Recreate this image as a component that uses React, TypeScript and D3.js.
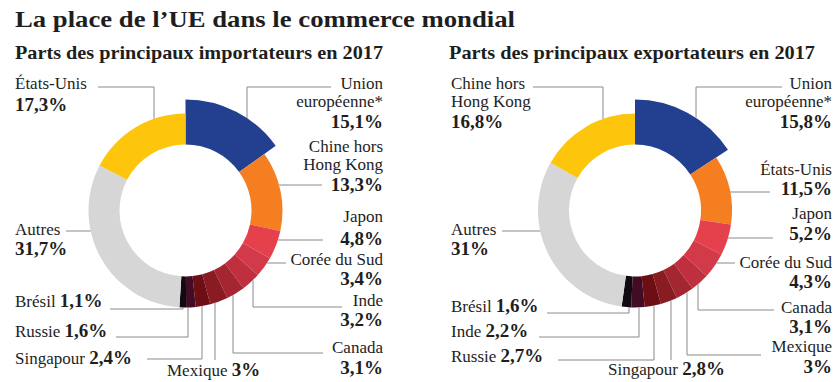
import React from "react";
import * as d3 from "d3";

// ---------- DATA ----------
const importCountries = ["Union européenne*", "Chine hors Hong Kong", "Japon", "Corée du Sud", "Inde", "Canada", "Mexique", "Singapour", "Russie", "Brésil", "Autres", "États-Unis"];
const importShares = [15.1, 13.3, 4.8, 3.4, 3.2, 3.1, 3, 2.4, 1.6, 1.1, 31.7, 17.3];
const importShareLabels = ["15,1%", "13,3%", "4,8%", "3,4%", "3,2%", "3,1%", "3%", "2,4%", "1,6%", "1,1%", "31,7%", "17,3%"];

const exportCountries = ["Union européenne*", "États-Unis", "Japon", "Corée du Sud", "Canada", "Mexique", "Singapour", "Russie", "Inde", "Brésil", "Autres", "Chine hors Hong Kong"];
const exportShares = [15.8, 11.5, 5.2, 4.3, 3.1, 3, 2.8, 2.7, 2.2, 1.6, 31, 16.8];
const exportShareLabels = ["15,8%", "11,5%", "5,2%", "4,3%", "3,1%", "3%", "2,8%", "2,7%", "2,2%", "1,6%", "31%", "16,8%"];

const sliceColors = ["#233f8f", "#f47e20", "#e5414c", "#d23a4a", "#bf2f3e", "#a42631", "#891b22", "#6c0e13", "#420c24", "#120a12", "#d6d6d6", "#fdc50c"];

const title = "La place de l\u2019UE dans le commerce mondial";
const subtitles = ["Parts des principaux importateurs en 2017", "Parts des principaux exportateurs en 2017"];

// ---------- LAYOUT ----------
type Leader = { y: number; x0: number; vx?: number };
type Lab = { anchor: "start" | "end"; x: number; lines: string[]; ys: number[]; inline?: boolean; leader: Leader };

const R_OUT = 97;
const R_IN = 66;
const R_HI = 111;

const leftLayout: Lab[] = [
  { anchor: "end", x: 383, lines: ["Union", "européenne*"], ys: [89, 107, 128], leader: { y: 87, x0: 331, vx: 247 } },
  { anchor: "end", x: 383, lines: ["Chine hors", "Hong Kong"], ys: [152, 170, 191], leader: { y: 185, x0: 322 } },
  { anchor: "end", x: 383, lines: ["Japon"], ys: [222, 245], leader: { y: 240, x0: 323 } },
  { anchor: "end", x: 383, lines: ["Corée du Sud"], ys: [265, 285], leader: { y: 263, x0: 286 } },
  { anchor: "end", x: 383, lines: ["Inde"], ys: [306, 326], leader: { y: 307, x0: 342, vx: 253 } },
  { anchor: "end", x: 383, lines: ["Canada"], ys: [353, 374], leader: { y: 353, x0: 323, vx: 233 } },
  { anchor: "start", x: 167, lines: ["Mexique"], ys: [376], inline: true, leader: { y: 360, x0: 215, vx: 215 } },
  { anchor: "start", x: 15, lines: ["Singapour"], ys: [364], inline: true, leader: { y: 359, x0: 147, vx: 202 } },
  { anchor: "start", x: 15, lines: ["Russie"], ys: [337], inline: true, leader: { y: 337, x0: 116, vx: 188 } },
  { anchor: "start", x: 15, lines: ["Brésil"], ys: [307], inline: true, leader: { y: 309, x0: 110, vx: 183 } },
  { anchor: "start", x: 15, lines: ["Autres"], ys: [235, 255], leader: { y: 231, x0: 66 } },
  { anchor: "start", x: 15, lines: ["États-Unis"], ys: [89, 111], leader: { y: 87, x0: 98, vx: 154 } },
];

const rightLayout: Lab[] = [
  { anchor: "end", x: 832, lines: ["Union", "européenne*"], ys: [89, 107, 128], leader: { y: 87, x0: 782, vx: 696 } },
  { anchor: "end", x: 832, lines: ["États-Unis"], ys: [175, 195], leader: { y: 192, x0: 770 } },
  { anchor: "end", x: 832, lines: ["Japon"], ys: [219, 240], leader: { y: 238, x0: 773 } },
  { anchor: "end", x: 832, lines: ["Corée du Sud"], ys: [268, 288], leader: { y: 263, x0: 735 } },
  { anchor: "end", x: 832, lines: ["Canada"], ys: [313, 333], leader: { y: 310, x0: 774, vx: 698 } },
  { anchor: "end", x: 832, lines: ["Mexique"], ys: [352, 373], leader: { y: 355, x0: 761, vx: 687 } },
  { anchor: "start", x: 608, lines: ["Singapour"], ys: [375], inline: true, leader: { y: 360, x0: 671, vx: 671 } },
  { anchor: "start", x: 451, lines: ["Russie"], ys: [362], inline: true, leader: { y: 360, x0: 558, vx: 654 } },
  { anchor: "start", x: 451, lines: ["Inde"], ys: [337], inline: true, leader: { y: 337, x0: 539, vx: 639 } },
  { anchor: "start", x: 451, lines: ["Brésil"], ys: [312], inline: true, leader: { y: 313, x0: 547, vx: 629 } },
  { anchor: "start", x: 451, lines: ["Autres"], ys: [235, 255], leader: { y: 231, x0: 502 } },
  { anchor: "start", x: 451, lines: ["Chine hors", "Hong Kong"], ys: [89, 107, 128], leader: { y: 87, x0: 533, vx: 603 } },
];

const FONT = "'Liberation Serif', 'Times New Roman', serif";
const LABEL_SIZE = 17;
const VALUE_SIZE = 19;
const LINE_COLOR = "#8a8a8a";
const TEXT_COLOR = "#1e1e1e";

type PanelProps = {
  cx: number;
  cy: number;
  shares: number[];
  shareLabels: string[];
  layout: Lab[];
};

function Donut({ cx, cy, shares, shareLabels, layout }: PanelProps) {
  const pie = d3.pie<number>().sort(null).value((d) => d).startAngle(0).endAngle(2 * Math.PI);
  const arcs = pie(shares);
  const outerR = (i: number) => (i === 0 ? R_HI : R_OUT);
  const arcGen = d3.arc<d3.PieArcDatum<number>>().innerRadius(R_IN);

  const leaderPath = (lab: Lab, i: number) => {
    const r = outerR(i);
    const { y, x0, vx } = lab.leader;
    const p = d3.path();
    if (vx !== undefined) {
      const dx = vx - cx;
      const dy = Math.sqrt(Math.max(0, r * r - dx * dx));
      const yEnd = y < cy ? cy - dy : cy + dy;
      p.moveTo(x0, y);
      p.lineTo(vx, y);
      p.lineTo(vx, yEnd);
      return p.toString();
    }
    const dy = y - cy;
    const dx = Math.sqrt(Math.max(0, r * r - dy * dy));
    const xEnd = x0 > cx ? cx + dx : cx - dx;
    p.moveTo(x0, y);
    p.lineTo(xEnd, y);
    return p.toString();
  };

  return (
    <g>
      <g transform={`translate(${cx},${cy})`}>
        {arcs.map((a, i) => (
          <path key={i} d={arcGen.outerRadius(outerR(i))(a) || ""} fill={sliceColors[i]} />
        ))}
      </g>
      {layout.map((lab, i) => (
        <path key={"l" + i} d={leaderPath(lab, i)} fill="none" stroke={LINE_COLOR} strokeWidth={1} />
      ))}
      {layout.map((lab, i) =>
        lab.inline ? (
          <text key={"t" + i} x={lab.x} y={lab.ys[0]} textAnchor={lab.anchor} fontFamily={FONT} fill={TEXT_COLOR}>
            <tspan fontSize={LABEL_SIZE}>{lab.lines[0]} </tspan>
            <tspan fontSize={VALUE_SIZE} fontWeight="bold">{shareLabels[i]}</tspan>
          </text>
        ) : (
          <g key={"t" + i}>
            {lab.lines.map((ln, j) => (
              <text key={j} x={lab.x} y={lab.ys[j]} textAnchor={lab.anchor} fontFamily={FONT} fontSize={LABEL_SIZE} fill={TEXT_COLOR}>
                {ln}
              </text>
            ))}
            <text x={lab.x} y={lab.ys[lab.lines.length]} textAnchor={lab.anchor} fontFamily={FONT} fontSize={VALUE_SIZE} fontWeight="bold" fill={TEXT_COLOR}>
              {shareLabels[i]}
            </text>
          </g>
        )
      )}
    </g>
  );
}

export default function App() {
  return (
    <svg width={836} height={382} style={{ position: "absolute", left: 0, top: 0, background: "#fff" }}>
      <rect width={836} height={382} fill="#fff" />
      <text x={15} y={27} fontFamily={FONT} fontSize={24} fontWeight="bold" fill={TEXT_COLOR} textLength={500} lengthAdjust="spacingAndGlyphs">
        {title}
      </text>
      <text x={15} y={59} fontFamily={FONT} fontSize={19} fontWeight="bold" fill={TEXT_COLOR} textLength={368} lengthAdjust="spacingAndGlyphs">
        {subtitles[0]}
      </text>
      <text x={449} y={59} fontFamily={FONT} fontSize={19} fontWeight="bold" fill={TEXT_COLOR} textLength={366} lengthAdjust="spacingAndGlyphs">
        {subtitles[1]}
      </text>
      <Donut cx={185.5} cy={210.5} shares={importShares} shareLabels={importShareLabels} layout={leftLayout} />
      <Donut cx={635} cy={210.5} shares={exportShares} shareLabels={exportShareLabels} layout={rightLayout} />
    </svg>
  );
}
